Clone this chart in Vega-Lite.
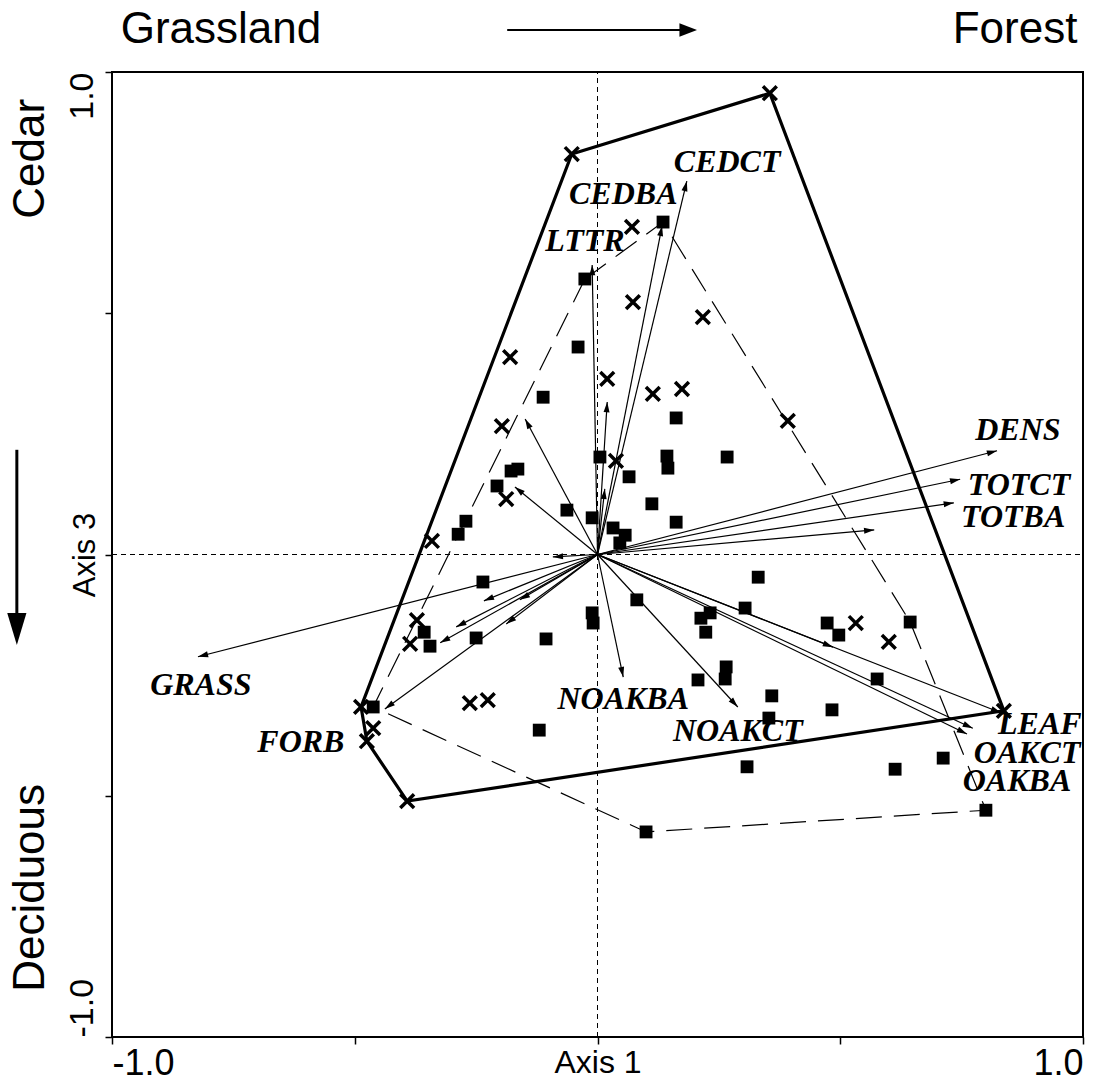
{
  "$schema": "https://vega.github.io/schema/vega-lite/v6.json",
  "width": 971,
  "height": 965,
  "autosize": {"type": "none"},
  "padding": {"left": 112, "top": 72, "right": 10, "bottom": 47},
  "background": "white",
  "config": {
    "view": {"stroke": "black", "strokeWidth": 2},
    "font": "Liberation Sans"
  },
  "datasets": {
    "sitesA": [
      {"x": 0.135, "y": 0.689}, {"x": -0.026, "y": 0.571}, {"x": -0.040, "y": 0.430}, {"x": -0.112, "y": 0.326},
      {"x": 0.162, "y": 0.283}, {"x": 0.005, "y": 0.202}, {"x": 0.065, "y": 0.161}, {"x": 0.143, "y": 0.204},
      {"x": 0.145, "y": 0.179}, {"x": 0.267, "y": 0.202}, {"x": -0.178, "y": 0.173}, {"x": -0.164, "y": 0.177},
      {"x": -0.207, "y": 0.142}, {"x": 0.112, "y": 0.105}, {"x": -0.063, "y": 0.092}, {"x": -0.011, "y": 0.076},
      {"x": 0.162, "y": 0.067}, {"x": 0.032, "y": 0.055}, {"x": 0.057, "y": 0.040}, {"x": 0.046, "y": 0.024},
      {"x": -0.271, "y": 0.069}, {"x": -0.287, "y": 0.042}, {"x": -0.236, "y": -0.057}, {"x": 0.331, "y": -0.047},
      {"x": 0.081, "y": -0.094}, {"x": 0.304, "y": -0.111}, {"x": 0.213, "y": -0.132}, {"x": 0.232, "y": -0.121},
      {"x": 0.223, "y": -0.161}, {"x": -0.011, "y": -0.121}, {"x": -0.009, "y": -0.142}, {"x": -0.357, "y": -0.161},
      {"x": -0.345, "y": -0.190}, {"x": -0.250, "y": -0.173}, {"x": -0.106, "y": -0.175}, {"x": -0.462, "y": -0.316},
      {"x": -0.120, "y": -0.364}, {"x": 0.207, "y": -0.260}, {"x": 0.265, "y": -0.233}, {"x": 0.263, "y": -0.258},
      {"x": 0.359, "y": -0.293}, {"x": 0.353, "y": -0.339}, {"x": 0.308, "y": -0.440}, {"x": 0.483, "y": -0.322},
      {"x": 0.473, "y": -0.142}, {"x": 0.497, "y": -0.167}, {"x": 0.576, "y": -0.258}, {"x": 0.644, "y": -0.140},
      {"x": 0.613, "y": -0.445}, {"x": 0.712, "y": -0.422}, {"x": 0.800, "y": -0.530}, {"x": 0.100, "y": -0.575}
    ],
    "sitesB": [
      {"x": 0.355, "y": 0.956}, {"x": -0.053, "y": 0.830}, {"x": 0.071, "y": 0.679}, {"x": 0.073, "y": 0.523},
      {"x": 0.217, "y": 0.492}, {"x": -0.180, "y": 0.409}, {"x": 0.020, "y": 0.364}, {"x": 0.114, "y": 0.333},
      {"x": 0.174, "y": 0.343}, {"x": -0.197, "y": 0.266}, {"x": 0.392, "y": 0.277}, {"x": 0.038, "y": 0.194},
      {"x": -0.188, "y": 0.115}, {"x": -0.341, "y": 0.028}, {"x": -0.372, "y": -0.136}, {"x": -0.386, "y": -0.185},
      {"x": -0.487, "y": -0.316}, {"x": -0.462, "y": -0.360}, {"x": -0.475, "y": -0.387}, {"x": -0.392, "y": -0.511},
      {"x": -0.263, "y": -0.308}, {"x": -0.226, "y": -0.302}, {"x": 0.532, "y": -0.142}, {"x": 0.600, "y": -0.181},
      {"x": 0.837, "y": -0.324}
    ],
    "hullA": [
      {"order": 1, "x": -0.026, "y": 0.571}, {"order": 2, "x": 0.135, "y": 0.689}, {"order": 3, "x": 0.644, "y": -0.140},
      {"order": 4, "x": 0.800, "y": -0.530}, {"order": 5, "x": 0.100, "y": -0.575}, {"order": 6, "x": -0.462, "y": -0.316},
      {"order": 7, "x": -0.026, "y": 0.571}
    ],
    "hullB": [
      {"order": 1, "x": -0.053, "y": 0.830}, {"order": 2, "x": 0.355, "y": 0.956}, {"order": 3, "x": 0.837, "y": -0.324},
      {"order": 4, "x": -0.392, "y": -0.511}, {"order": 5, "x": -0.475, "y": -0.387}, {"order": 6, "x": -0.487, "y": -0.316},
      {"order": 7, "x": -0.053, "y": 0.830}
    ],
    "vectors": [
      {"var": "CEDCT", "x": 0.184, "y": 0.774}, {"var": "CEDBA", "x": 0.133, "y": 0.681}, {"var": "LTTR", "x": -0.011, "y": 0.600},
      {"var": "v4", "x": 0.020, "y": 0.316}, {"var": "v5", "x": -0.149, "y": 0.281}, {"var": "v6", "x": -0.170, "y": 0.140},
      {"var": "v7", "x": 0.015, "y": 0.136}, {"var": "DENS", "x": 0.823, "y": 0.215}, {"var": "TOTCT", "x": 0.747, "y": 0.156},
      {"var": "TOTBA", "x": 0.734, "y": 0.107}, {"var": "v11", "x": 0.570, "y": 0.051}, {"var": "LEAF", "x": 0.831, "y": -0.328},
      {"var": "OAKCT", "x": 0.773, "y": -0.360}, {"var": "OAKBA", "x": 0.761, "y": -0.372}, {"var": "v15", "x": 0.485, "y": -0.192},
      {"var": "NOAKBA", "x": 0.053, "y": -0.254}, {"var": "NOAKCT", "x": 0.289, "y": -0.316}, {"var": "GRASS", "x": -0.823, "y": -0.212},
      {"var": "FORB", "x": -0.438, "y": -0.320}, {"var": "v20", "x": -0.234, "y": -0.096}, {"var": "v21", "x": -0.160, "y": -0.094},
      {"var": "v22", "x": -0.291, "y": -0.150}, {"var": "v23", "x": -0.188, "y": -0.144}, {"var": "v24", "x": -0.092, "y": -0.005},
      {"var": "v25", "x": -0.324, "y": -0.183}
    ],
    "vectorLabels": [
      {"label": "CEDCT", "x": 0.267, "y": 0.813}, {"label": "CEDBA", "x": 0.053, "y": 0.747}, {"label": "LTTR", "x": -0.026, "y": 0.650},
      {"label": "DENS", "x": 0.866, "y": 0.258}, {"label": "TOTCT", "x": 0.868, "y": 0.145}, {"label": "TOTBA", "x": 0.856, "y": 0.077},
      {"label": "GRASS", "x": -0.817, "y": -0.270}, {"label": "FORB", "x": -0.611, "y": -0.389}, {"label": "NOAKBA", "x": 0.053, "y": -0.299},
      {"label": "NOAKCT", "x": 0.289, "y": -0.366}, {"label": "LEAF", "x": 0.911, "y": -0.352}, {"label": "OAKCT", "x": 0.885, "y": -0.411},
      {"label": "OAKBA", "x": 0.864, "y": -0.470}
    ],
    "crosshairs": [
      {"x": 0, "y": -1, "x2": 0, "y2": 1}, {"x": -1, "y": 0, "x2": 1, "y2": 0}
    ],
    "gradientTitles": [
      {"text": "Grassland", "x": -0.7755, "y": 1.087}, {"text": "Forest", "x": 0.86, "y": 1.087}
    ],
    "sideTitles": [
      {"text": "Cedar", "x": -1.167, "y": 0.82}, {"text": "Deciduous", "x": -1.167, "y": -0.691}
    ]
  },
  "encoding": {
    "x": {
      "field": "x", "type": "quantitative",
      "scale": {"domain": [-1, 1], "nice": false, "zero": false},
      "axis": {
        "values": [-1, -0.5, 0, 0.5, 1],
        "labelExpr": "datum.value == 1 ? '1.0' : (datum.value == -1 ? '-1.0' : '')",
        "labelFlush": true, "labelOverlap": false,
        "labelFont": "Liberation Sans", "labelFontSize": 36, "labelColor": "black", "labelPadding": 2,
        "tickSize": 7, "tickColor": "black", "tickWidth": 1.5, "domain": false, "grid": false,
        "title": "Axis 1", "titleFont": "Liberation Sans", "titleFontSize": 32, "titleFontWeight": "normal", "titleColor": "black",
        "titleX": 485.5, "titleY": 10, "titleBaseline": "top", "titleAlign": "center"
      }
    },
    "y": {
      "field": "y", "type": "quantitative",
      "scale": {"domain": [-1, 1], "nice": false, "zero": false},
      "axis": {
        "values": [-1, -0.5, 0, 0.5, 1],
        "labelExpr": "datum.value == 1 ? '1.0' : (datum.value == -1 ? '-1.0' : '')",
        "labelAngle": 270,
        "labelAlign": {"condition": {"test": "datum.value > 0", "value": "right"}, "value": "left"},
        "labelBaseline": "bottom", "labelOverlap": false,
        "labelFont": "Liberation Sans", "labelFontSize": 34, "labelColor": "black", "labelPadding": 6,
        "tickSize": 7, "tickColor": "black", "tickWidth": 1.5, "domain": false, "grid": false,
        "title": "Axis 3", "titleFont": "Liberation Sans", "titleFontSize": 31, "titleFontWeight": "normal", "titleColor": "black",
        "titleAngle": 270, "titleX": -27, "titleY": 482.5, "titleBaseline": "middle", "titleAlign": "center"
      }
    }
  },
  "layer": [
    {
      "data": {"name": "crosshairs"},
      "mark": {"type": "rule", "color": "black", "strokeWidth": 1, "strokeDash": [5, 4]},
      "encoding": {"x2": {"field": "x2"}, "y2": {"field": "y2"}}
    },
    {
      "data": {"name": "hullA"},
      "mark": {"type": "line", "color": "black", "strokeWidth": 1.2, "strokeDash": [26, 12]},
      "encoding": {"order": {"field": "order", "type": "quantitative"}}
    },
    {
      "data": {"name": "hullB"},
      "mark": {"type": "line", "color": "black", "strokeWidth": 3.2},
      "encoding": {"order": {"field": "order", "type": "quantitative"}}
    },
    {
      "data": {"name": "vectors"},
      "mark": {"type": "rule", "color": "black", "strokeWidth": 1.2},
      "encoding": {"x2": {"datum": 0}, "y2": {"datum": 0}}
    },
    {
      "data": {"name": "vectors"},
      "transform": [{"calculate": "atan2(datum.x * 485.5, datum.y * 482.5) * 180 / PI", "as": "heading"}],
      "mark": {"type": "point", "shape": "M0,0L-1,3.4L1,3.4Z", "size": 36, "filled": true, "color": "black", "opacity": 1},
      "encoding": {"angle": {"field": "heading", "type": "quantitative", "scale": null}}
    },
    {
      "data": {"name": "sitesA"},
      "mark": {"type": "point", "shape": "square", "size": 165, "filled": true, "color": "black", "opacity": 1},
      "encoding": {}
    },
    {
      "data": {"name": "sitesB"},
      "mark": {"type": "point", "shape": "M-1,-1L1,1M-1,1L1,-1", "size": 190, "filled": false, "color": "black", "strokeWidth": 3.5, "opacity": 1},
      "encoding": {}
    },
    {
      "data": {"name": "vectorLabels"},
      "mark": {"type": "text", "font": "Liberation Serif", "fontSize": 32, "fontWeight": "bold", "fontStyle": "italic", "color": "black", "align": "center", "baseline": "middle"},
      "encoding": {"text": {"field": "label"}}
    },
    {
      "data": {"name": "gradientTitles"},
      "mark": {"type": "text", "font": "Liberation Sans", "fontSize": 44, "color": "black", "align": "center", "baseline": "middle"},
      "encoding": {"text": {"field": "text"}}
    },
    {
      "data": {"name": "sideTitles"},
      "mark": {"type": "text", "font": "Liberation Sans", "fontSize": 44, "color": "black", "align": "center", "baseline": "middle", "angle": 270},
      "encoding": {"text": {"field": "text"}}
    },
    {
      "data": {"values": [{"x": -0.186, "y": 1.087, "x2": 0.17, "y2": 1.087}]},
      "mark": {"type": "rule", "color": "black", "strokeWidth": 2},
      "encoding": {"x2": {"field": "x2"}, "y2": {"field": "y2"}}
    },
    {
      "data": {"values": [{"x": 0.205, "y": 1.087}]},
      "mark": {"type": "point", "shape": "M0,0L-4.4,-1.7L-4.4,1.7Z", "size": 64, "filled": true, "color": "black", "opacity": 1},
      "encoding": {}
    },
    {
      "data": {"values": [{"x": -1.196, "y": 0.217, "x2": -1.196, "y2": -0.13}]},
      "mark": {"type": "rule", "color": "black", "strokeWidth": 3},
      "encoding": {"x2": {"field": "x2"}, "y2": {"field": "y2"}}
    },
    {
      "data": {"values": [{"x": -1.196, "y": -0.1876}]},
      "mark": {"type": "point", "shape": "M0,0L-1.2,-4L1.2,-4Z", "size": 256, "filled": true, "color": "black", "opacity": 1},
      "encoding": {}
    }
  ]
}
